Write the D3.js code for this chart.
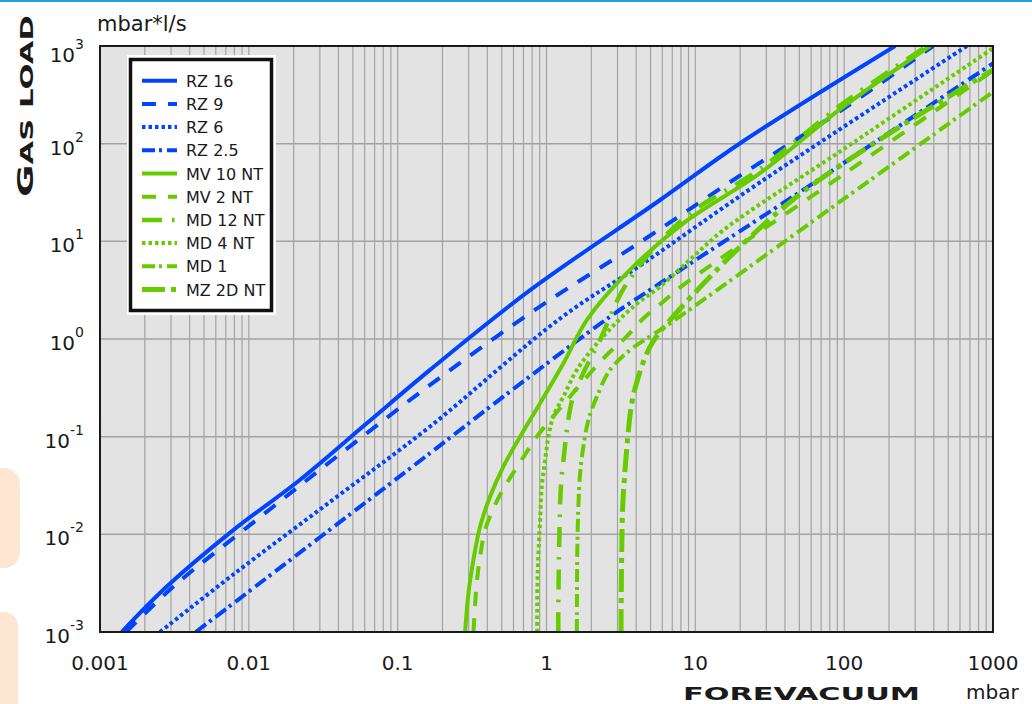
<!DOCTYPE html>
<html>
<head>
<meta charset="utf-8">
<script src="https://cdn.jsdelivr.net/npm/d3@7/dist/d3.min.js"></script>
<style>
  body { margin: 0; background: #fff; }
  svg text { font-family: "DejaVu Sans", sans-serif; fill: #1a1a1a; }
</style>
</head>
<body>
<svg id="chart" width="1032" height="704"></svg>
<script>
// forevacuum pressure [mbar] vs gas load [mbar*l/s]
const rz16 = [[0.0014,0.001],[0.0028,0.0029],[0.0079,0.0111],[0.022,0.036],[0.062,0.137],[0.165,0.483],[0.78,3.18],[5.8,26.5],[20,101],[220,1000]];
const rz9 = [[0.0015,0.001],[0.0031,0.0029],[0.0113,0.0141],[0.039,0.0625],[0.149,0.301],[0.776,1.84],[4.48,10.3],[18,42.5],[104,239],[396,1000]];
const rz6 = [[0.00253,0.001],[0.0079,0.0039],[0.037,0.0228],[0.165,0.127],[1.26,1.66],[4.48,5.97],[27.3,40.3],[668,1000]];
const rz25 = [[0.0044,0.001],[0.165,0.0678],[0.513,0.257],[2.67,1.69],[5.8,3.72],[62,39.4],[1000,665]];
const mv10 = [[0.284,0.001],[0.299,0.0025],[0.323,0.0055],[0.358,0.012],[0.418,0.0244],[0.513,0.0494],[0.665,0.1],[0.906,0.22],[1.30,0.565],[1.87,1.57],[3.46,4.72],[8.3,15.3],[27.2,49.8],[98.9,239],[378,1000]];
const mv2 = [[0.323,0.001],[0.34,0.0032],[0.358,0.0059],[0.387,0.0111],[0.451,0.02],[0.541,0.0334],[0.682,0.058],[0.861,0.1],[1.11,0.161],[2.48,0.661],[3.37,1.02],[4.49,1.63],[6.11,2.42],[8.32,3.58],[100,49],[1000,560]];
const md12 = [[1.2,0.001],[1.2,0.00156],[1.22,0.0095],[1.25,0.031],[1.33,0.079],[1.40,0.149],[1.51,0.257],[1.77,0.45],[2.29,0.98],[3.46,3.7],[8.3,17],[27.2,55],[98.9,260],[360,1000]];
const md4 = [[0.865,0.001],[0.869,0.0029],[0.883,0.0064],[0.906,0.014],[0.929,0.031],[0.98,0.058],[1.03,0.1],[1.11,0.161],[1.30,0.257],[1.60,0.483],[2.29,0.98],[3.84,2.15],[5.8,3.44],[9.7,6.97],[15.5,13.1],[100,88.7],[1000,946]];
const md1 = [[1.6,0.001],[1.6,0.00133],[1.61,0.00643],[1.637,0.0192],[1.683,0.0423],[1.77,0.0793],[1.914,0.1486],[2.18,0.257],[2.67,0.483],[3.65,0.773],[4.97,1.06],[6.78,1.45],[100,27.3],[1000,339]];
const mz2d = [[3.17,0.001],[3.17,0.00133],[3.2,0.00643],[3.25,0.0192],[3.37,0.0457],[3.52,0.1],[3.74,0.22],[4.15,0.412],[4.97,0.836],[6.78,1.57],[45.7,27],[1000,568]];

const xTicks = [0.001, 0.01, 0.1, 1, 10, 100, 1000];
const xTickLabels = ["0.001", "0.01", "0.1", "1", "10", "100", "1000"];
const yExponents = [3, 2, 1, 0, -1, -2, -3];

const blue = "#0044ff";
const green = "#66cc00";

const series = [
  { name: "RZ 16", data: rz16, color: blue, dash: null, width: 4 },
  { name: "RZ 9", data: rz9, color: blue, dash: "14,12", width: 4 },
  { name: "RZ 6", data: rz6, color: blue, dash: "3.5,3", width: 4 },
  { name: "RZ 2.5", data: rz25, color: blue, dash: "13,4,3,5", width: 4 },
  { name: "MV 10 NT", data: mv10, color: green, dash: null, width: 4 },
  { name: "MV 2 NT", data: mv2, color: green, dash: "14,12", width: 4 },
  { name: "MD 12 NT", data: md12, color: green, dash: "20,10,2.5,10", width: 4.5 },
  { name: "MD 4 NT", data: md4, color: green, dash: "3.5,3", width: 4 },
  { name: "MD 1", data: md1, color: green, dash: "13,4,3,5", width: 4 },
  { name: "MZ 2D NT", data: mz2d, color: green, dash: "23,6,5,6", width: 5 }
];

const svg = d3.select("#chart");
const plotLeft = 100, plotRight = 993, plotTop = 46, plotBottom = 632;

const x = d3.scaleLog().domain([0.001, 1000]).range([plotLeft, plotRight]);
const y = d3.scaleLog().domain([0.001, 1000]).range([plotBottom, plotTop]);

// decorations
svg.append("rect").attr("x", 0).attr("y", 0).attr("width", 1032).attr("height", 2).attr("fill", "#1ea2e2");
svg.append("rect").attr("x", -30).attr("y", 468).attr("width", 50).attr("height", 100).attr("rx", 16).attr("fill", "#fde7d2");
svg.append("rect").attr("x", -30).attr("y", 612).attr("width", 48).attr("height", 120).attr("rx", 14).attr("fill", "#fde7d2");

// plot background
svg.append("rect")
  .attr("x", plotLeft).attr("y", plotTop)
  .attr("width", plotRight - plotLeft).attr("height", plotBottom - plotTop)
  .attr("fill", "#e3e3e3");

// grid
const grid = svg.append("g");
const minor = [];
for (let e = -3; e < 3; e++) {
  for (let m = 1; m < 10; m++) minor.push(m * Math.pow(10, e));
}
grid.selectAll(".vx").data(minor).enter().append("line")
  .attr("x1", d => x(d)).attr("x2", d => x(d))
  .attr("y1", plotTop).attr("y2", plotBottom)
  .attr("stroke", "#a3a3a3").attr("stroke-width", 1.2);
grid.selectAll(".hy").data(yExponents).enter().append("line")
  .attr("x1", plotLeft).attr("x2", plotRight)
  .attr("y1", d => y(Math.pow(10, d))).attr("y2", d => y(Math.pow(10, d)))
  .attr("stroke", "#a3a3a3").attr("stroke-width", 1.5);

// curves
svg.append("clipPath").attr("id", "clip")
  .append("rect").attr("x", plotLeft).attr("y", plotTop)
  .attr("width", plotRight - plotLeft).attr("height", plotBottom - plotTop);

const line = d3.line()
  .x(d => x(d[0]))
  .y(d => y(d[1]))
  .curve(d3.curveCatmullRom.alpha(0.5));

const curves = svg.append("g").attr("clip-path", "url(#clip)");
series.forEach(s => {
  curves.append("path")
    .attr("d", line(s.data))
    .attr("fill", "none")
    .attr("stroke", s.color)
    .attr("stroke-width", s.width)
    .attr("stroke-dasharray", s.dash);
});

// frame
svg.append("rect")
  .attr("x", plotLeft).attr("y", plotTop)
  .attr("width", plotRight - plotLeft).attr("height", plotBottom - plotTop)
  .attr("fill", "none").attr("stroke", "#1a1a1a").attr("stroke-width", 2);

// x tick labels
svg.selectAll(".xl").data(xTicks).enter().append("text")
  .attr("x", d => x(d)).attr("y", 670)
  .attr("text-anchor", "middle")
  .style("font-size", "20px")
  .text((d, i) => xTickLabels[i]);

// y tick labels 10^n
const yl = svg.selectAll(".yl").data(yExponents).enter().append("text")
  .attr("x", 84)
  .attr("y", d => y(Math.pow(10, d)) + (d === 3 ? 16 : 11))
  .attr("text-anchor", "end")
  .style("font-size", "20px");
yl.append("tspan").text("10");
yl.append("tspan").attr("dy", -13).style("font-size", "14px").text(d => d);

// axis titles
svg.append("text").attr("x", 97).attr("y", 31).style("font-size", "21px").text("mbar*l/s");
svg.append("text").attr("x", 966).attr("y", 699).style("font-size", "20px").text("mbar");
svg.append("text")
  .attr("x", 683).attr("y", 700)
  .attr("textLength", 237).attr("lengthAdjust", "spacingAndGlyphs")
  .style("font-size", "17px").style("font-weight", "bold")
  .text("FOREVACUUM");
svg.append("text")
  .attr("transform", "translate(33,197) rotate(-90)")
  .attr("textLength", 182).attr("lengthAdjust", "spacingAndGlyphs")
  .style("font-size", "17px").style("font-weight", "bold")
  .call(t => {
    t.append("tspan").style("font-size", "22px").text("G");
    t.append("tspan").text("AS LOAD");
  });

// legend
const lg = svg.append("g");
lg.append("rect").attr("x", 127).attr("y", 55).attr("width", 149).attr("height", 260).attr("fill", "#fff");
lg.append("rect").attr("x", 130.5).attr("y", 59.5).attr("width", 141).attr("height", 251)
  .attr("fill", "none").attr("stroke", "#111").attr("stroke-width", 3.5);
const rows = lg.selectAll(".row").data(series).enter().append("g")
  .attr("transform", (d, i) => `translate(0,${80.7 + i * 23.2})`);
rows.append("line")
  .attr("x1", 142).attr("x2", 177).attr("y1", 0).attr("y2", 0)
  .attr("stroke", d => d.color).attr("stroke-width", d => d.width)
  .attr("stroke-dasharray", d => d.dash);
rows.append("text").attr("x", 186).attr("y", 6).style("font-size", "16px").text(d => d.name);
</script>
</body>
</html>
